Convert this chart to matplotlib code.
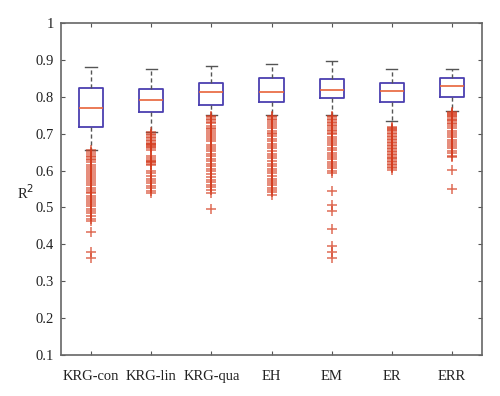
import matplotlib
matplotlib.use("Agg")
import matplotlib.pyplot as plt

# models on the x axis
labels = ["KRG-con", "KRG-lin", "KRG-qua", "EH", "EM", "ER", "ERR"]

# box statistics (R^2)
whis_hi = [0.882, 0.875, 0.883, 0.889, 0.898, 0.875, 0.875]
q3 = [0.825, 0.820, 0.837, 0.852, 0.848, 0.837, 0.850]
med = [0.770, 0.790, 0.812, 0.813, 0.818, 0.816, 0.829]
q1 = [0.718, 0.759, 0.779, 0.786, 0.797, 0.787, 0.798]
whis_lo = [0.656, 0.705, 0.751, 0.751, 0.751, 0.735, 0.762]

# outliers
fl_krg_con = [0.655, 0.650, 0.646, 0.640, 0.636, 0.632, 0.628, 0.622, 0.615, 0.610,
              0.604, 0.598, 0.592, 0.588, 0.583, 0.578, 0.572, 0.566, 0.560, 0.554,
              0.548, 0.543, 0.538, 0.532, 0.526, 0.520, 0.515, 0.510, 0.503, 0.497,
              0.490, 0.484, 0.476, 0.470, 0.462, 0.434, 0.380, 0.362]
fl_krg_lin = [0.705, 0.700, 0.696, 0.692, 0.688, 0.684, 0.680, 0.676, 0.673, 0.671,
              0.669, 0.667, 0.664, 0.660, 0.656, 0.640, 0.634, 0.628, 0.626, 0.624,
              0.622, 0.619, 0.615, 0.600, 0.594, 0.585, 0.578, 0.572, 0.565, 0.558,
              0.552, 0.545, 0.538]
fl_krg_qua = [0.748, 0.744, 0.740, 0.736, 0.732, 0.728, 0.722, 0.716, 0.712, 0.708,
              0.703, 0.697, 0.692, 0.686, 0.680, 0.670, 0.664, 0.658, 0.652, 0.646,
              0.640, 0.632, 0.625, 0.618, 0.612, 0.605, 0.598, 0.590, 0.582, 0.575,
              0.568, 0.562, 0.555, 0.548, 0.540, 0.496]
fl_eh = [0.748, 0.744, 0.740, 0.736, 0.731, 0.726, 0.720, 0.714, 0.708, 0.702,
         0.698, 0.693, 0.686, 0.680, 0.672, 0.666, 0.660, 0.653, 0.646, 0.640,
         0.633, 0.626, 0.618, 0.612, 0.605, 0.598, 0.592, 0.585, 0.578, 0.572,
         0.566, 0.560, 0.554, 0.548, 0.542, 0.535]
fl_em = [0.748, 0.744, 0.740, 0.736, 0.732, 0.728, 0.724, 0.720, 0.715, 0.710,
         0.706, 0.702, 0.698, 0.692, 0.686, 0.680, 0.674, 0.668, 0.662, 0.655,
         0.648, 0.642, 0.636, 0.630, 0.624, 0.618, 0.612, 0.606, 0.600, 0.594,
         0.545, 0.507, 0.489, 0.441, 0.396, 0.378, 0.362]
fl_er = [0.719, 0.716, 0.713, 0.710, 0.706, 0.702, 0.698, 0.694, 0.690, 0.686,
         0.682, 0.678, 0.674, 0.670, 0.666, 0.662, 0.658, 0.654, 0.650, 0.646,
         0.642, 0.638, 0.634, 0.630, 0.626, 0.622, 0.618, 0.614, 0.610, 0.606, 0.602]
fl_err = [0.760, 0.756, 0.753, 0.750, 0.747, 0.744, 0.741, 0.738, 0.734, 0.730,
          0.726, 0.720, 0.714, 0.708, 0.702, 0.696, 0.690, 0.684, 0.678, 0.672,
          0.666, 0.660, 0.654, 0.648, 0.640, 0.636, 0.602, 0.549]
fliers = [fl_krg_con, fl_krg_lin, fl_krg_qua, fl_eh, fl_em, fl_er, fl_err]

plt.rcParams['font.family'] = ['Liberation Serif', 'DejaVu Serif']

stats = []
for i in range(len(labels)):
    stats.append(dict(label=labels[i], med=med[i], q1=q1[i], q3=q3[i],
                      whislo=whis_lo[i], whishi=whis_hi[i], fliers=fliers[i]))

fig = plt.figure(figsize=(5.0, 3.96), dpi=100)
ax = fig.add_axes([0.122, 0.1035, 0.842, 0.8385])

ax.bxp(stats, positions=range(1, len(labels) + 1), widths=0.4,
       boxprops=dict(color='#4b3fb0', linewidth=1.3),
       medianprops=dict(color='#e8643a', linewidth=1.2),
       whiskerprops=dict(color='#555555', linewidth=1.0, linestyle=(0, (3, 2))),
       capprops=dict(color='#555555', linewidth=1.0),
       capwidths=0.19,
       flierprops=dict(marker='+', markeredgecolor='#d43c1e', markersize=6.5,
                       markeredgewidth=1.1, linestyle='none', alpha=0.75))

ax.set_xlim(0.5, 7.5)
ax.set_ylim(0.1, 1.0)
ax.set_yticks([0.1, 0.2, 0.3, 0.4, 0.5, 0.6, 0.7, 0.8, 0.9, 1.0])
ax.set_yticklabels(['0.1', '0.2', '0.3', '0.4', '0.5', '0.6', '0.7', '0.8', '0.9', '1'])
ax.tick_params(direction='in', length=3, color='#555555', labelsize=10.5,
               labelcolor='#222222', top=True, right=True)
ax.tick_params(axis='x', pad=11)
ax.tick_params(axis='y', pad=5)
for s in ax.spines.values():
    s.set_color('#666666')
    s.set_linewidth(1.2)

ax.set_ylabel('R$^2$', rotation=0, fontsize=10.5, color='#222222')
ax.yaxis.set_label_coords(-0.085, 0.46)

fig.savefig('out.png', dpi=100)
